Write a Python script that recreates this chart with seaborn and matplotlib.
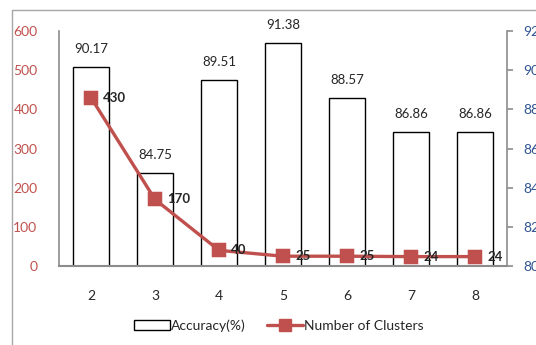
import matplotlib
matplotlib.use("Agg")
import matplotlib.pyplot as plt
import seaborn as sns
import pandas as pd
from matplotlib.patches import Rectangle, Patch
from matplotlib.lines import Line2D

# --- Data ---
clusters_k = ["2", "3", "4", "5", "6", "7", "8"]
accuracy = [90.17, 84.75, 89.51, 91.38, 88.57, 86.86, 86.86]
n_clusters = [430, 170, 40, 25, 25, 24, 24]

df = pd.DataFrame({"k": clusters_k, "Accuracy": accuracy, "Clusters": n_clusters})

sns.set_style("white")
plt.rcParams["font.family"] = ["Lato", "DejaVu Sans"]

RED = "#C0504D"
BLUE = "#2F5491"
GRAY = "#8C8C8C"

fig = plt.figure(figsize=(5.36, 3.45), dpi=100)
ax = fig.add_axes([0.110, 0.229, 0.836, 0.681])

# bars (accuracy) on primary axes, shown on the right side
sns.barplot(data=df, x="k", y="Accuracy", ax=ax, color="white",
            edgecolor="black", linewidth=1.0, width=0.56, saturation=1)
ax.set_ylim(80, 92)
ax.set_yticks(range(80, 93, 2))
for i, v in enumerate(accuracy):
    ax.text(i, v + 0.6, f"{v:.2f}", ha="center", va="bottom", fontsize=9.5)

# line (clusters) on twin axes, shown on the left side
ax2 = ax.twinx()
sns.pointplot(data=df, x="k", y="Clusters", ax=ax2, color=RED, markers="s",
              linestyles="-", markersize=8.5, linewidth=2.4, errorbar=None)
ax2.set_ylim(0, 600)
ax2.set_yticks(range(0, 601, 100))
for i, v in enumerate(n_clusters):
    ax2.text(i + 0.19, v, str(v), ha="left", va="center", fontsize=9.5,
             fontweight="bold")

# swap sides: accuracy labels right, cluster labels left
ax.yaxis.tick_right()
ax2.yaxis.tick_left()

ax.set_xlim(-0.5, 6.5)
ax2.set_xlim(-0.5, 6.5)

for a in (ax, ax2):
    a.set_xlabel("")
    a.set_ylabel("")
    for s in a.spines.values():
        s.set_visible(False)

ax.spines["bottom"].set_visible(True)
ax.spines["bottom"].set_color(GRAY)
ax.spines["bottom"].set_linewidth(1.5)
ax.spines["right"].set_visible(True)
ax.spines["right"].set_color(GRAY)
ax.spines["right"].set_linewidth(1.2)
ax2.spines["left"].set_visible(True)
ax2.spines["left"].set_color(GRAY)
ax2.spines["left"].set_linewidth(1.2)

ax.tick_params(axis="y", right=True, left=False, labelright=True,
               labelleft=False, length=4, width=1.2, color=GRAY,
               labelcolor=BLUE, labelsize=10, pad=8, direction="out")
ax.tick_params(axis="x", bottom=False, labelsize=10, pad=14)
ax2.tick_params(axis="y", left=False, right=False, labelleft=True,
                labelright=False, labelcolor=RED, labelsize=10, pad=12)

handles = [
    Patch(facecolor="white", edgecolor="black", linewidth=1.0),
    Line2D([0], [0], color=RED, lw=2.4, marker="s", markersize=8.5),
]
fig.legend(handles, ["Accuracy(%)", "Number of Clusters"], loc="center",
           bbox_to_anchor=(0.52, 0.057), ncol=2, frameon=False, fontsize=10,
           handlelength=2.6, handletextpad=0.1, columnspacing=1.5)

# outer chart border
fig.patches.append(Rectangle((12 / 536, -0.1), 1.2, 0.1 + (1 - 10 / 345),
                             transform=fig.transFigure, fill=False,
                             edgecolor="#A6A6A6", linewidth=1.0))

fig.savefig("out.png", dpi=100)
